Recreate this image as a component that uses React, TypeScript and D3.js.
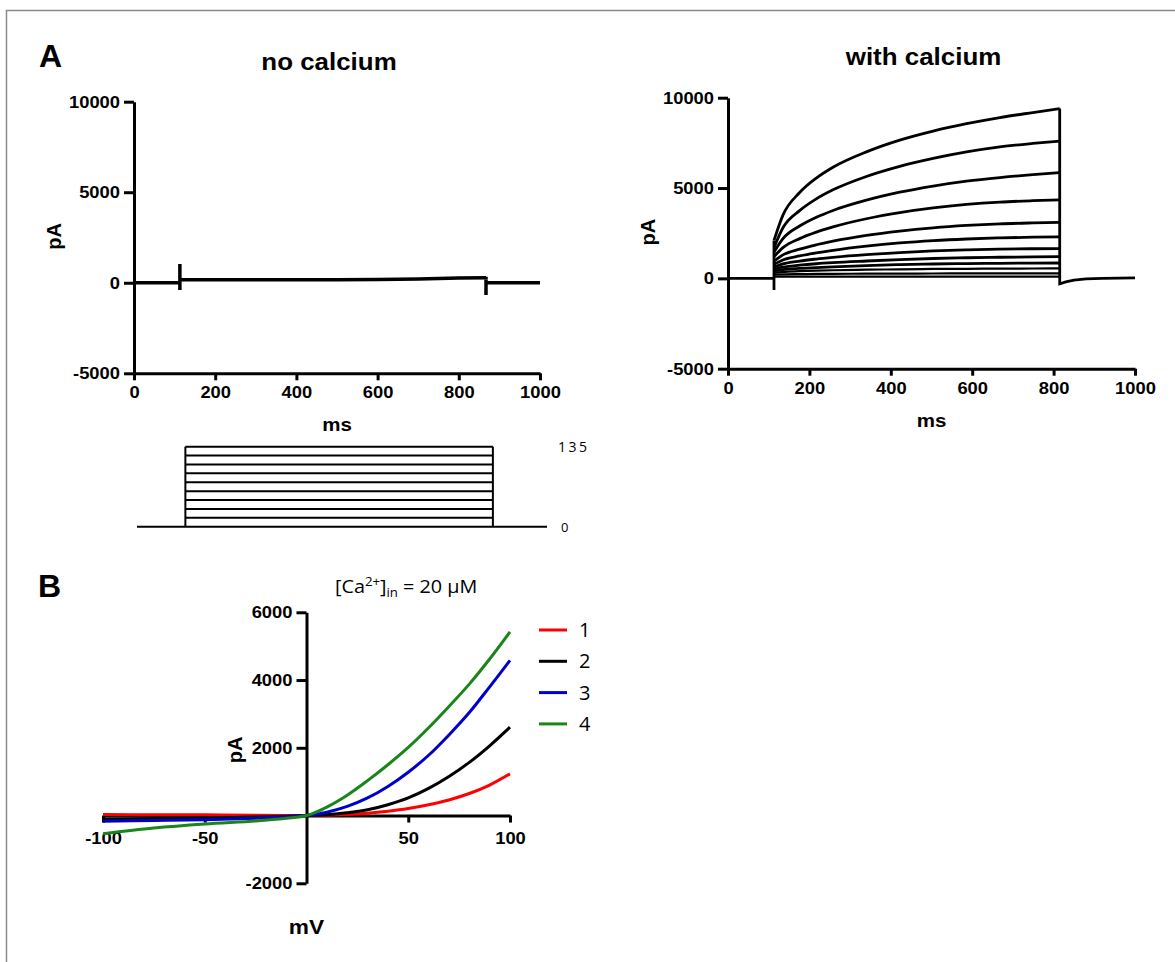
import React, { useEffect, useRef } from 'react';
import * as d3 from 'd3';

// ---------- panel A, no calcium (one trace, spikes at pulse on / off) ----------
const noCaTime = [0, 113, 113, 113, 113, 200, 300, 400, 500, 600, 700, 750, 800, 867, 867, 867, 867, 1000];
const noCaCurrent = [0, 0, -400, 1030, 180, 170, 160, 160, 170, 180, 210, 240, 260, 280, 330, -680, 0, 0];

// ---------- panel A, with calcium ----------
const caTime = [113, 135, 176, 217, 258, 340, 422, 504, 586, 668, 749, 815];
const caTraces = [
  [2100, 3500, 4750, 5550, 6150, 7000, 7650, 8150, 8560, 8900, 9180, 9400],
  [1700, 2800, 3750, 4400, 4900, 5640, 6200, 6640, 7000, 7280, 7470, 7600],
  [1450, 2200, 2900, 3380, 3760, 4330, 4770, 5110, 5380, 5580, 5740, 5850],
  [1200, 1700, 2200, 2560, 2850, 3300, 3640, 3900, 4090, 4220, 4300, 4350],
  [950, 1300, 1620, 1860, 2060, 2380, 2620, 2800, 2930, 3020, 3070, 3100],
  [780, 1020, 1240, 1410, 1550, 1780, 1960, 2090, 2180, 2240, 2280, 2300],
  [620, 800, 960, 1070, 1160, 1310, 1430, 1520, 1580, 1620, 1640, 1650],
  [500, 620, 730, 810, 870, 960, 1040, 1100, 1140, 1170, 1190, 1200],
  [400, 480, 550, 600, 640, 710, 760, 795, 820, 835, 845, 850],
  [300, 360, 400, 430, 450, 480, 500, 520, 530, 540, 545, 550],
  [200, 220, 235, 245, 250, 260, 265, 270, 274, 277, 279, 280],
  [90, 95, 97, 98, 99, 100, 100, 100, 100, 100, 100, 100],
];
const caOnTime = [0, 113, 113, 113];
const caOnCurrent = [0, 0, -650, 2100];
const caOffTime = [815, 815, 830, 850, 880, 920, 1000];
const caOffCurrent = [9400, -300, -200, -100, -30, 0, 30];

const timeTicks = [0, 200, 400, 600, 800, 1000];
const currentTicks = [-5000, 0, 5000, 10000];

// ---------- voltage protocol ----------
const stepLevels = [0, 15, 30, 45, 60, 75, 90, 105, 120, 135];
const protocolTime = [0, 118, 868, 1000];

// ---------- panel B, I-V curves ----------
const ivVoltage = [-100, -75, -50, -25, -10, 0, 10, 20, 30, 40, 50, 60, 70, 80, 90, 100];
const ivCurve1 = [30, 25, 20, 10, 5, 0, 10, 30, 70, 130, 210, 320, 460, 650, 900, 1230];
const ivCurve2 = [-100, -85, -70, -45, -20, 0, 25, 80, 170, 320, 520, 800, 1150, 1570, 2060, 2610];
const ivCurve3 = [-170, -145, -125, -80, -35, 0, 100, 270, 520, 860, 1280, 1780, 2380, 3040, 3800, 4580];
const ivCurve4 = [-540, -370, -250, -160, -80, 0, 250, 600, 1030, 1500, 2010, 2590, 3220, 3880, 4620, 5420];
const ivLabels = ['1', '2', '3', '4'];
const ivColors = ['#ff0000', '#000000', '#0000cc', '#1a861a'];
const ivXTicks = [-100, -50, 50, 100];
const ivYTicks = [-2000, 2000, 4000, 6000];

const bold = '"Liberation Sans", Arial, sans-serif';
const light = '"Open Sans", "Noto Sans", sans-serif';
const SX = 1.08; // the figure's lettering is a little wide

export default function App() {
  const ref = useRef<SVGSVGElement>(null);

  useEffect(() => {
    document.body.style.margin = '0';
    const svg = d3.select(ref.current);
    svg.selectAll('*').remove();

    const styleAxis = (g: any) => {
      g.attr('font-family', bold).attr('font-size', 17).attr('font-weight', 'bold');
      g.selectAll('path, line').attr('stroke', '#000').attr('stroke-width', 3);
      g.selectAll('text').attr('fill', '#000').each(function (this: any) {
        const el = d3.select(this);
        const x = +(el.attr('x') || 0);
        el.attr('x', x / SX).attr('transform', `scale(${SX},1)`);
      });
    };

    // plain text helper, stretched a bit like the original lettering
    const label = (x: number, y: number, txt: string, size: number, opts: any = {}) => {
      const rot = opts.rotate ? ' rotate(-90)' : '';
      return svg.append('text')
        .attr('transform', `translate(${x},${y})${rot} scale(${opts.sx ?? SX},1)`)
        .attr('text-anchor', opts.anchor || 'middle')
        .attr('font-family', opts.family || bold)
        .attr('font-weight', opts.weight || 'bold')
        .attr('font-size', size)
        .attr('letter-spacing', opts.spacing || 0)
        .text(txt);
    };

    // frame (top and left only)
    svg.append('path')
      .attr('d', 'M1175,10.5 H6.5 V962')
      .attr('fill', 'none')
      .attr('stroke', '#8a8a8a')
      .attr('stroke-width', 1.5);

    // panel letters
    label(39, 67, 'A', 32, { anchor: 'start', sx: 1 });
    label(38, 597, 'B', 32, { anchor: 'start', sx: 1 });

    // ---------------- time-course panels ----------------
    const drawTracePanel = (x0: number, x1: number, yTop: number, yBot: number, title: string, titleY: number, pAx: number) => {
      const x = d3.scaleLinear().domain([0, 1000]).range([x0, x1]);
      const y = d3.scaleLinear().domain([-5000, 10000]).range([yBot, yTop]);

      svg.append('g')
        .attr('transform', `translate(0,${yBot})`)
        .call(d3.axisBottom(x).tickValues(timeTicks).tickFormat(d => String(d)).tickSize(7).tickSizeOuter(0).tickPadding(6))
        .call(styleAxis);
      svg.append('g')
        .attr('transform', `translate(${x0},0)`)
        .call(d3.axisLeft(y).tickValues(currentTicks).tickFormat(d => String(d)).tickSize(10).tickSizeOuter(0).tickPadding(4))
        .call(styleAxis);

      label((x0 + x1) / 2 - 8, titleY, title, 24);
      label((x0 + x1) / 2, yBot + 58, 'ms', 19);
      label(pAx, (yTop + yBot) / 2 - 1, 'pA', 20, { rotate: true, sx: 1 });
      return { x, y };
    };

    // no calcium
    const left = drawTracePanel(134, 540, 101.7, 373.3, 'no calcium', 70, 61);
    svg.append('path')
      .datum(noCaCurrent)
      .attr('fill', 'none')
      .attr('stroke', '#000')
      .attr('stroke-width', 3.5)
      .attr('d', d3.line<number>().x((d, i) => left.x(noCaTime[i])).y(d => left.y(d)));

    // with calcium
    const right = drawTracePanel(728, 1135, 97.7, 368.7, 'with calcium', 65, 655);
    const caLine = d3.line<number>()
      .x((d, i) => right.x(caTime[i]))
      .y(d => right.y(d))
      .curve(d3.curveMonotoneX);
    svg.append('g')
      .selectAll('path')
      .data(caTraces)
      .join('path')
      .attr('fill', 'none')
      .attr('stroke', '#000')
      .attr('stroke-width', (d, i) => (i < 9 ? 2.8 : 2.2))
      .attr('d', d => caLine(d));
    svg.append('path')
      .datum(caOnCurrent)
      .attr('fill', 'none').attr('stroke', '#000').attr('stroke-width', 2.8)
      .attr('d', d3.line<number>().x((d, i) => right.x(caOnTime[i])).y(d => right.y(d)));
    svg.append('path')
      .datum(caOffCurrent)
      .attr('fill', 'none').attr('stroke', '#000').attr('stroke-width', 2.8)
      .attr('d', d3.line<number>().x((d, i) => right.x(caOffTime[i])).y(d => right.y(d)));

    // ---------------- voltage protocol ----------------
    const px = d3.scaleLinear().domain([0, 1000]).range([137, 547]);
    const py = d3.scaleLinear().domain([0, 135]).range([526.7, 446.7]);
    const prot = svg.append('g').attr('stroke', '#000').attr('stroke-width', 2).attr('fill', 'none');
    prot.append('line')
      .attr('x1', px(protocolTime[0])).attr('x2', px(protocolTime[3]))
      .attr('y1', py(0)).attr('y2', py(0));
    prot.selectAll('line.step')
      .data(stepLevels.slice(1))
      .join('line')
      .attr('class', 'step')
      .attr('x1', px(protocolTime[1])).attr('x2', px(protocolTime[2]))
      .attr('y1', d => py(d)).attr('y2', d => py(d));
    prot.selectAll('line.edge')
      .data([protocolTime[1], protocolTime[2]])
      .join('line')
      .attr('class', 'edge')
      .attr('x1', d => px(d)).attr('x2', d => px(d))
      .attr('y1', py(0)).attr('y2', py(d3.max(stepLevels) as number));
    label(558, py(135) + 5, String(d3.max(stepLevels)), 14,
      { anchor: 'start', family: light, weight: 'normal', spacing: 2.5, sx: 1 });
    label(561, py(0) + 5, String(stepLevels[0]), 13,
      { anchor: 'start', family: light, weight: 'normal', sx: 1 });

    // ---------------- panel B ----------------
    const bx = d3.scaleLinear().domain([-100, 100]).range([103, 510]);
    const by = d3.scaleLinear().domain([-2000, 6000]).range([883.3, 612.3]);

    svg.append('g')
      .attr('transform', `translate(0,${by(0)})`)
      .call(d3.axisBottom(bx).tickValues(ivXTicks).tickFormat(d => String(d)).tickSize(7).tickSizeOuter(0).tickPadding(9))
      .call(styleAxis);
    svg.append('g')
      .attr('transform', `translate(${bx(0)},0)`)
      .call(d3.axisLeft(by).tickValues(ivYTicks).tickFormat(d => String(d)).tickSize(10).tickSizeOuter(0).tickPadding(4))
      .call(styleAxis);

    const ivLine = d3.line<number>()
      .x((d, i) => bx(ivVoltage[i]))
      .y(d => by(d))
      .curve(d3.curveCatmullRom.alpha(0.5));
    svg.append('g')
      .selectAll('path')
      .data([ivCurve1, ivCurve2, ivCurve3, ivCurve4])
      .join('path')
      .attr('fill', 'none')
      .attr('stroke', (d, i) => ivColors[i])
      .attr('stroke-width', 3)
      .attr('d', d => ivLine(d));

    // legend
    const legend = svg.append('g')
      .selectAll('g')
      .data(ivLabels)
      .join('g')
      .attr('transform', (d, i) => `translate(539,${630 + i * 31.3})`);
    legend.append('line')
      .attr('x1', 0).attr('x2', 28)
      .attr('stroke', (d, i) => ivColors[i])
      .attr('stroke-width', 3);
    legend.append('text')
      .attr('x', 40).attr('y', 7)
      .attr('font-family', light).attr('font-size', 20)
      .text(d => d);

    // title [Ca2+]in = 20 µM
    const t = svg.append('text')
      .attr('transform', `translate(335,593) scale(1.1,1)`)
      .attr('font-family', light).attr('font-size', 18);
    t.append('tspan').text('[Ca');
    t.append('tspan').text('2+').attr('font-size', 12).attr('dy', -7);
    t.append('tspan').text(']').attr('dy', 7);
    t.append('tspan').text('in').attr('font-size', 12).attr('dy', 4);
    t.append('tspan').text(' = 20 µM').attr('dy', -4);

    label(242, 750, 'pA', 20, { rotate: true, sx: 1 });
    label(bx(0), 934, 'mV', 21);
  }, []);

  return (
    <svg ref={ref} width={1175} height={962} style={{ display: 'block', background: '#fff' }} />
  );
}
